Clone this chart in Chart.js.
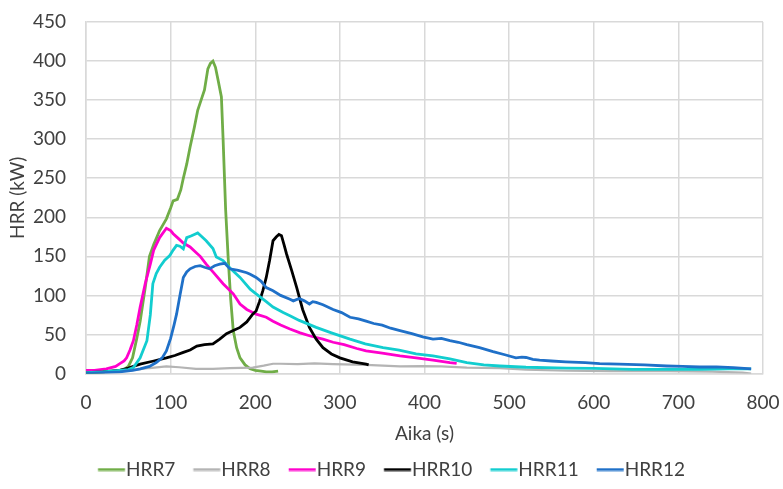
<!DOCTYPE html>
<html><head><meta charset="utf-8">
<script src="https://cdn.jsdelivr.net/npm/chart.js@4/dist/chart.umd.min.js"></script>
<style>html,body{margin:0;padding:0;background:#fff}</style>
</head><body>
<canvas id="c" width="783" height="489"></canvas>
<script>
// ---- data ----
const seriesNames = ["HRR7", "HRR8", "HRR9", "HRR10", "HRR11", "HRR12"];
const seriesColors = ["#70AD47", "#B4B4B4", "#FF00CC", "#000000", "#12CDCF", "#1F70C8"];

const hrr7T = [0,10,20,30,40,46,50,55,60,64,70,75,80,87,95,100,103,108,112,115,119,123,128,132,136,140,144,147,150,153,156,160,162,165,168,171,174,178,182,188,194,200,207,213,220,227];
const hrr7V = [0,1,2,3,4,6,9,20,45,67,110,150,165,183,198,212,221,223,235,250,268,290,315,337,350,363,390,397,400,392,376,354,300,210,148,95,55,33,20,11,6,4,3,2,2,3];

const hrr8T = [0,20,40,60,75,95,110,130,150,170,197,210,221,230,250,270,292,331,371,398,420,450,489,520,568,620,686,740,776,786];
const hrr8V = [0,1,3,5,7,9,8,6,6,7,7.5,10,12.5,12.5,12,13,12,11,9,9.5,9,7.5,7,5,3.5,3,3,2.5,1,0];

const hrr9T = [0,10,24,35,40,45,48,52,56,60,64,70,76,80,87,95,100,103,110,115,123,130,135,142,150,162,174,182,190,201,213,221,230,241,253,265,280,292,305,320,331,350,371,390,410,430,438];
const hrr9V = [4,4,6,9,12.6,16,20,30,42,62,85,115,140,158,174,186,183,179,172,167,162,155,150,140,130,115,102,89,82,76,72,67,62,57,52,48,44,40,37,32,29,26,22.5,20,17,14,13];

const hrr10T = [0,20,40,50,64,80,95,105,115,123,131,140,150,158,166,174,182,190,197,201,205,209,213,217,221,225,228,231,234,237,243,249,256,264,272,280,290,300,315,331,334];
const hrr10V = [1,2,4,7,12,16,20,23,27,30,35,37,38,44,51,55,59,66,76,80,92,106,123,145,170,175,178,176.5,165,153,132,110,82,59,44,33,25,20,15,12,11];

const hrr11T = [0,20,40,50,56,64,72,76,79,83,87,93,99,103,107,111,115,119,124,128,132,136,142,150,154,162,172,182,194,201,213,221,233,241,252,272,290,312,330,351,370,390,410,430,450,470,489,520,568,600,646,700,725,760,786];
const hrr11V = [1,2,4,5,7.5,20,42,75,115,128,136,145,151,158,164,163,159.5,174,176,178,180,176,170,160,149,144.5,133,123,108,102,92,85,78,74,68,59,52,44,38,33,30,25,22.5,18.6,14,11,9.6,8,7,6.5,5.4,5.4,5.4,6,6];

const hrr12T = [0,20,40,55,64,75,83,90,95,100,104,107,111,115,119,123,129,135,140,146,152,158,164,170,180,190,194,201,207,213,221,230,241,245,252,258,264,268,272,280,292,302,312,322,331,340,350,360,371,385,398,410,420,430,440,450,465,481,495,508,515,520,528,536,550,567,590,607,630,660,686,705,725,745,765,786];
const hrr12V = [0,1,2,4,6,9,14,20,29,45,62,76,100,123,130,134,137,138,136,134,138,140,141,134,132,129,127,123,118,110,106,100,95,93,96,93,89,92,91,88,82,78,72,70,67,64,62,58,55,51,47,44,45,42,40,37,33,28,24,20,21,20.5,18,17,16,15,14,12.6,12,11,9.6,9,8.3,8.5,7.5,6];

const xTickStep = 100, xMin = 0, xMax = 800;
const yTickStep = 50, yMin = 0, yMax = 450;
const xTitle = "Aika (s)";
const yTitle = "HRR (kW)";

// ---- build ----
const seriesT = [hrr7T, hrr8T, hrr9T, hrr10T, hrr11T, hrr12T];
const seriesV = [hrr7V, hrr8V, hrr9V, hrr10V, hrr11V, hrr12V];
const FONT = "Lato";
const TXT = "#404040";

const datasets = seriesNames.map((name, i) => ({
  label: name,
  data: seriesT[i].map((t, k) => ({x: t, y: seriesV[i][k]})),
  borderColor: seriesColors[i],
  backgroundColor: seriesColors[i],
  borderWidth: i === 1 ? 2.2 : 2.8,
  pointRadius: 0,
  tension: 0,
  fill: false,
  order: seriesNames.length - i
}));

function lineImage(color) {
  const cv = document.createElement('canvas');
  cv.width = 38; cv.height = 4;
  const g = cv.getContext('2d');
  g.fillStyle = color;
  g.fillRect(9.75, 0.6, 27, 2.8);
  return cv;
}

new Chart(document.getElementById('c'), {
  type: 'line',
  data: { datasets },
  options: {
    responsive: false,
    animation: false,
    layout: { padding: { left: 20, right: 20, top: 22, bottom: 0 } },
    plugins: {
      tooltip: { enabled: false },
      legend: {
        position: 'bottom',
        labels: {
          usePointStyle: true,
          pointStyleWidth: 18.5,
          padding: 18,
          color: TXT,
          font: { family: FONT, size: 19 },
          sort: (a, b) => a.datasetIndex - b.datasetIndex,
          generateLabels(chart) {
            const items = Chart.defaults.plugins.legend.labels.generateLabels(chart);
            items.forEach(it => { it.pointStyle = lineImage(seriesColors[it.datasetIndex]); });
            return items;
          }
        }
      }
    },
    scales: {
      x: {
        type: 'linear', min: xMin, max: xMax,
        afterFit(s) { s.height = 68.5; s.paddingRight = 10; s.paddingLeft = 0; },
        ticks: { stepSize: xTickStep, color: TXT, font: { family: FONT, size: 19 }, padding: 18, maxRotation: 0 },
        grid: { color: '#D9D9D9', lineWidth: 1.5, drawTicks: false },
        border: { color: '#D9D9D9', width: 1.5 },
        title: { display: true, text: xTitle, color: TXT, font: { family: FONT, size: 19 }, padding: { top: 0, bottom: -3.4 } }
      },
      y: {
        min: yMin, max: yMax,
        afterFit(s) { s.width = 66; s.paddingTop = 10; s.paddingBottom = 0; },
        ticks: { stepSize: yTickStep, color: TXT, font: { family: FONT, size: 19 }, padding: 20 },
        grid: { color: '#D9D9D9', lineWidth: 1.5, drawTicks: false },
        border: { color: '#D9D9D9', width: 1.5 },
        title: { display: true, text: yTitle, color: TXT, font: { family: FONT, size: 19 }, padding: { top: -13.4, bottom: 0 } }
      }
    }
  }
});
</script>
</body></html>
